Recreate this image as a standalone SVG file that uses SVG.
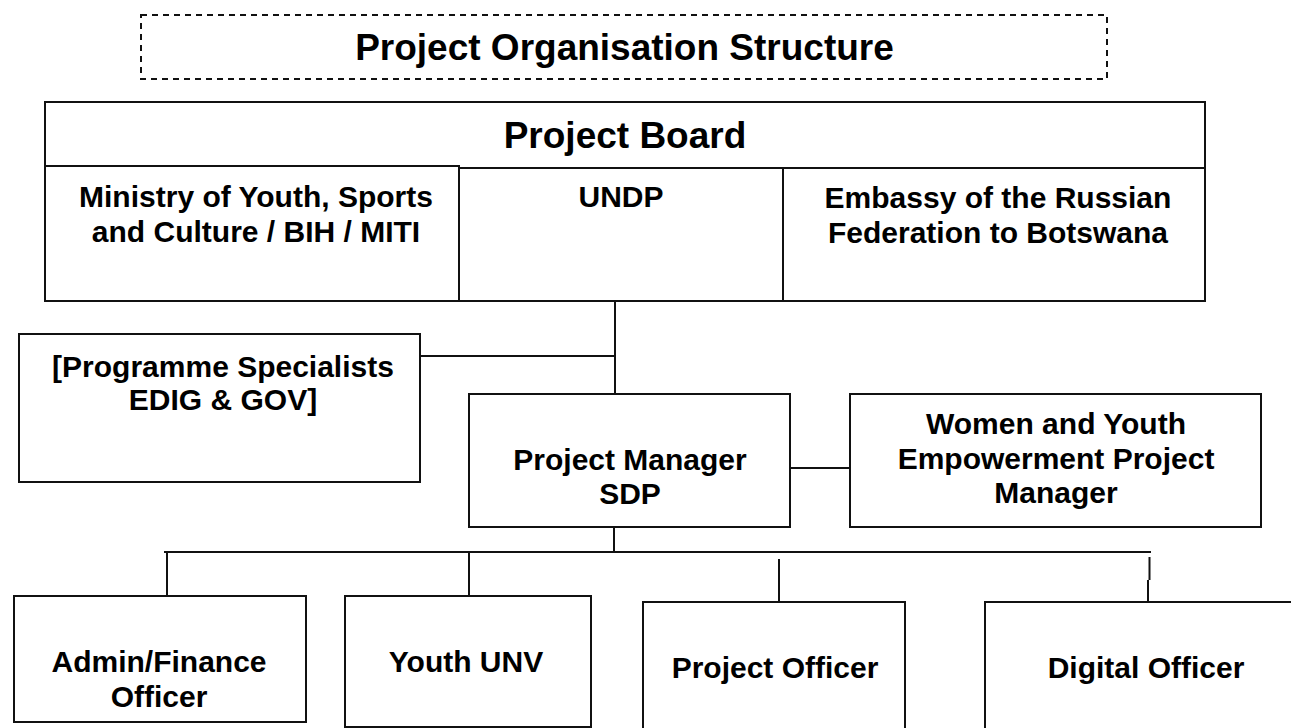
<svg xmlns="http://www.w3.org/2000/svg" width="1291" height="728" viewBox="0 0 1291 728">
<style>
rect.box{fill:#fff;stroke:#111;stroke-width:2}
rect.title{fill:none;stroke:#111;stroke-width:2;stroke-dasharray:6 5}
line{stroke:#111;stroke-width:2}
text{font-family:"Liberation Sans",Arial,sans-serif;font-weight:bold;fill:#000;text-anchor:middle}
.t37{font-size:37px}
.t30{font-size:30px}
</style>
<rect x="0" y="0" width="1291" height="728" fill="#fff"/>
<g id="title">
<rect class="title" x="141" y="15" width="966" height="64"/>
<text class="t37" x="624.5" y="60">Project Organisation Structure</text>
</g>
<g id="connectors">
<line x1="615" y1="301" x2="615" y2="394"/>
<line x1="420" y1="356" x2="615" y2="356"/>
<line x1="790" y1="468" x2="850" y2="468"/>
<line x1="614" y1="527" x2="614" y2="552"/>
<line x1="164" y1="552" x2="1151" y2="552"/>
<line x1="167" y1="552" x2="167" y2="596"/>
<line x1="469" y1="552" x2="469" y2="596"/>
<line x1="779" y1="559" x2="779" y2="602"/>
<line x1="1149.5" y1="557" x2="1149.5" y2="580"/>
<line x1="1148" y1="580" x2="1148" y2="602"/>
</g>
<g id="board">
<rect class="box" x="45" y="102" width="1160" height="199"/>
<text class="t37" x="625" y="148">Project Board</text>
</g>
<g id="ministry">
<rect class="box" x="45" y="166" width="414" height="135"/>
<text class="t30" x="256" y="207">Ministry of Youth, Sports</text>
<text class="t30" x="256" y="242">and Culture / BIH / MITI</text>
</g>
<g id="undp">
<rect class="box" x="459" y="168" width="324" height="133"/>
<text class="t30" x="621" y="207">UNDP</text>
</g>
<g id="embassy">
<rect class="box" x="783" y="168" width="422" height="133"/>
<text class="t30" x="998" y="208">Embassy of the Russian</text>
<text class="t30" x="998" y="243">Federation to Botswana</text>
</g>
<g id="specialists">
<rect class="box" x="19" y="334" width="401" height="148"/>
<text class="t30" x="223" y="377">[Programme Specialists</text>
<text class="t30" x="223" y="410">EDIG &amp; GOV]</text>
</g>
<g id="pm">
<rect class="box" x="469" y="394" width="321" height="133"/>
<text class="t30" x="630" y="470">Project Manager</text>
<text class="t30" x="630" y="504">SDP</text>
</g>
<g id="wyepm">
<rect class="box" x="850" y="394" width="411" height="133"/>
<text class="t30" x="1056" y="434">Women and Youth</text>
<text class="t30" x="1056" y="469">Empowerment Project</text>
<text class="t30" x="1056" y="503">Manager</text>
</g>
<g id="admin">
<rect class="box" x="14" y="596" width="292" height="126"/>
<text class="t30" x="159" y="672">Admin/Finance</text>
<text class="t30" x="159" y="707">Officer</text>
</g>
<g id="youthunv">
<rect class="box" x="345" y="596" width="246" height="131"/>
<text class="t30" x="466" y="672">Youth UNV</text>
</g>
<g id="projectofficer">
<rect class="box" x="643" y="602" width="262" height="140"/>
<text class="t30" x="775" y="678">Project Officer</text>
</g>
<g id="digitalofficer">
<rect class="box" x="985" y="602" width="320" height="140"/>
<text class="t30" x="1146" y="678">Digital Officer</text>
</g>
</svg>
